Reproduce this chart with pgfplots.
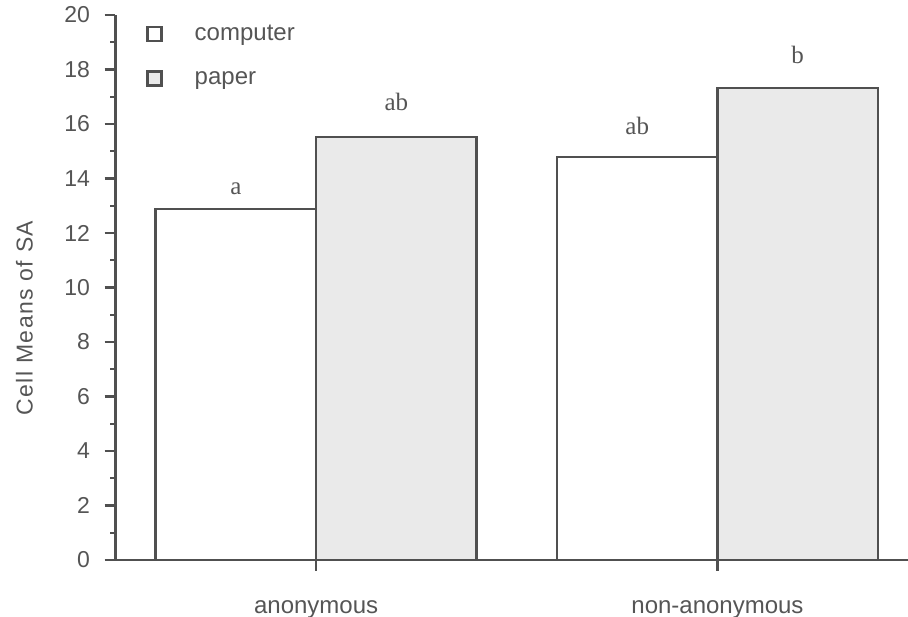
\documentclass[border=0pt]{standalone}
\usepackage{pgfplots}
\pgfplotsset{compat=1.18}
\usepackage{pgfplotstable}
\usepackage{fontspec}
\setmainfont{Liberation Sans}
\newfontfamily\seriffont{Liberation Serif}
\newfontfamily\lblfont[LetterSpace=6]{Liberation Sans}
\definecolor{axcol}{HTML}{505050}
\definecolor{txtcol}{HTML}{555555}
\definecolor{paperfill}{HTML}{EAEAEA}

\pgfplotstableread{
x y lab off
0 12.88 a 15
1 14.79 ab 22
}\computer
\pgfplotstableread{
x y lab off
0 15.52 ab 27
1 17.32 b 25
}\paper

\begin{document}
\begin{tikzpicture}
\useasboundingbox (-115.5pt,-57pt) rectangle (792.5pt,560pt);
\begin{axis}[
  scale only axis,
  width=793pt, height=545pt,
  xmin=-0.5, xmax=1.476,
  ymin=0, ymax=20,
  axis x line=bottom, axis y line=left,
  axis line style={-, draw=axcol, line width=2.5pt},
  ytick={0,2,...,20},
  minor y tick num=1,
  xtick={0,1},
  xticklabels={anonymous, non-anonymous},
  tick align=outside,
  major tick length=11pt,
  minor tick length=5pt,
  tick style={draw=axcol, line width=2.2pt},
  font=\fontsize{23}{27}\selectfont,
  /pgf/number format/assume math mode=true,
  ticklabel style={text=txtcol},
  yticklabel style={xshift=-11pt},
  xticklabel style={yshift=-26pt, font=\fontsize{24}{28}\selectfont},
  ylabel={\lblfont Cell Means of SA},
  every axis y label/.style={at={(axis description cs:-0.1148,0.444)}, rotate=90, anchor=center, text=txtcol, font=\fontsize{23}{27}\selectfont},
  ybar, bar width=0.4,
  legend style={draw=none, fill=none, inner sep=0pt, outer sep=0pt,
    at={(axis description cs:0.039,0.985)}, anchor=north west,
    row sep=25pt, column sep=30pt, text=txtcol,
    font=\fontsize{24}{28}\selectfont},
  legend cell align=left,
  legend image code/.code={\draw[#1, line width=2.3pt] (0pt,-7pt) rectangle (14pt,7pt);},
  nodes near coords={\pgfplotspointmeta},
  point meta=explicit symbolic,
  every node near coord/.append style={anchor=base, text=txtcol, font=\seriffont\fontsize{25}{29}\selectfont, yshift=\myoff pt},
  visualization depends on={\thisrow{off} \as \myoff},
]
\addplot[bar shift=-0.2, draw=axcol, line width=2.5pt, fill=white] table[x=x, y=y, meta=lab] {\computer};
\addlegendentry{computer}
\addplot[bar shift=0.2, draw=axcol, line width=2.5pt, fill=paperfill] table[x=x, y=y, meta=lab] {\paper};
\addlegendentry{paper}
\end{axis}
\end{tikzpicture}
\end{document}
